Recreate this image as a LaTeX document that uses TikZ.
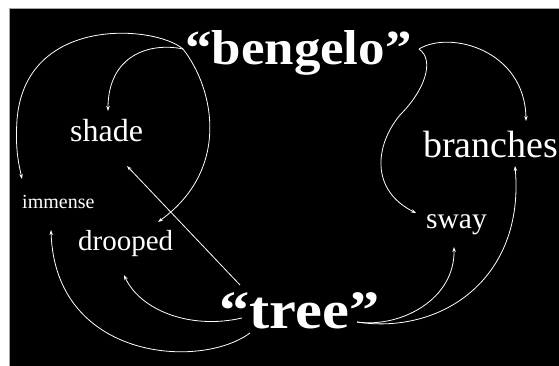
\documentclass[tikz,border=0pt]{standalone}
\usepackage{fontspec}
\usepackage{graphicx}
\setmainfont{Liberation Serif}
\usetikzlibrary{arrows.meta}
\begin{document}
\begin{tikzpicture}[x=1pt,y=-1pt,
  word/.style={text=white,inner sep=0pt,anchor=base west},
  link/.style={draw=white,line width=0.8pt,-{Stealth[length=5pt,width=3.5pt]}}]
\useasboundingbox (0,0) rectangle (559,366);
\fill[white] (0,0) rectangle (559,366);
\fill[black] (9,8) rectangle (559,366);
\draw[gray!70,line width=0.8pt] (9,366) -- (9,8) -- (559,8);
\begin{scope}
\clip (9,8) rectangle (559,366);
\node[word,font=\fontsize{49}{49}\selectfont\bfseries] (beng) at (185,65) {\scalebox{1.08}[1]{“bengelo”}};
\node[word,font=\fontsize{54}{54}\selectfont\bfseries] (tree) at (219,328) {\scalebox{1.12}[1]{“tree”}};
\node[word,font=\fontsize{32}{32}\selectfont] (shade) at (70,142) {shade};
\node[word,font=\fontsize{20}{20}\selectfont] (imm) at (22,208) {immense};
\node[word,font=\fontsize{29}{29}\selectfont] (droop) at (78,250) {drooped};
\node[word,font=\fontsize{29.5}{29.5}\selectfont] (sway) at (426,228) {sway};
\node[word,font=\fontsize{38}{38}\selectfont] (branch) at (423,158) {branches};
\end{scope}
% anchor points
\coordinate (bl1) at (183,49);
\coordinate (br1) at (419,49);
\coordinate (tl0) at (240,285);
\coordinate (tl1) at (242,318);
\coordinate (tl2) at (250,333);
\coordinate (tr1) at (357,322);
\coordinate (shT) at (108,111);
\coordinate (shB) at (127,166);
\coordinate (imT) at (22,179);
\coordinate (imB) at (51,230);
\coordinate (drT) at (158,222);
\coordinate (drB) at (124,275);
\coordinate (swL) at (416,213);
\coordinate (swB) at (454,247);
\coordinate (brT) at (526,121);
\coordinate (brB) at (515,166);
% bengelo -> immense
\draw[link] (bl1) .. controls (155,25) and (25,15) .. (17,120) .. controls (15,150) and (19,165) .. (imT);
% bengelo -> shade
\draw[link] (bl1) .. controls (150,42) and (108,55) .. (shT);
% bengelo -> drooped
\draw[link] (bl1) .. controls (215,90) and (230,170) .. (drT);
% tree -> shade
\draw[link] (tl0) -- (shB);
% tree -> drooped
\draw[link] (tl1) .. controls (190,330) and (140,310) .. (drB);
% tree -> immense
\draw[link] (tl2) .. controls (200,370) and (55,360) .. (imB);
% bengelo -> branches
\draw[link] (br1) .. controls (450,30) and (525,50) .. (brT);
% bengelo -> sway
\draw[link] (br1) .. controls (435,60) and (425,90) .. (400,115) .. controls (375,145) and (370,190) .. (swL);
% tree -> sway
\draw[link] (tr1) .. controls (400,328) and (455,300) .. (swB);
% tree -> branches
\draw[link] (tr1) .. controls (440,335) and (525,280) .. (brB);
\end{tikzpicture}
\end{document}
